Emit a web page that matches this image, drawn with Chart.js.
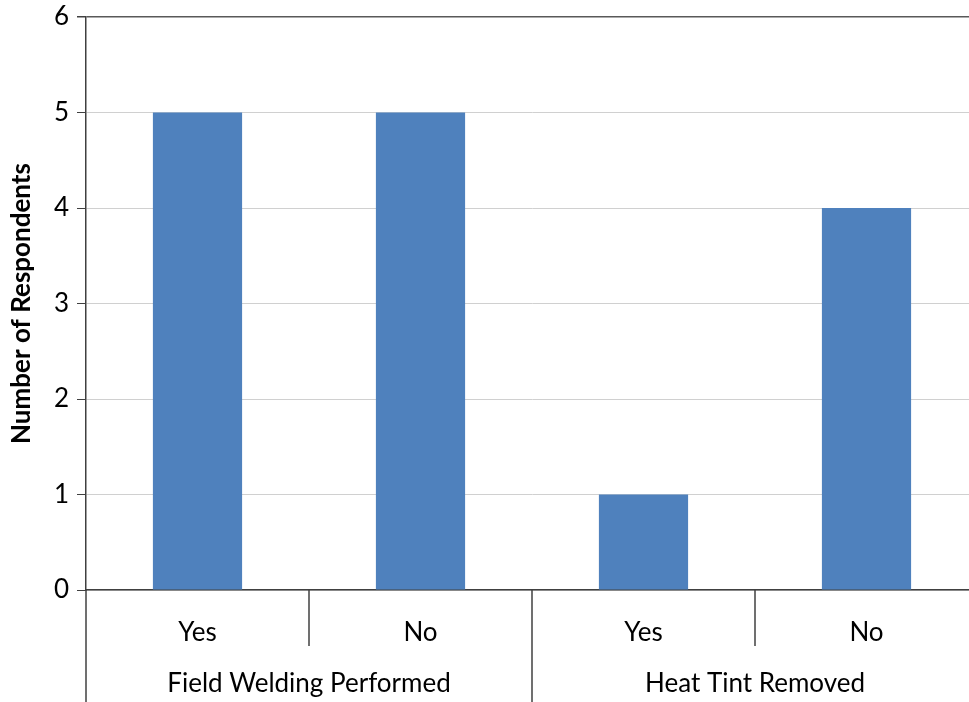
<!DOCTYPE html>
<html>
<head>
<meta charset="utf-8">
<script src="https://cdn.jsdelivr.net/npm/chart.js@4"></script>
<style>
  html, body { margin: 0; padding: 0; background: #fff; overflow: hidden; }
</style>
</head>
<body>
<canvas id="chart" width="980" height="702"></canvas>
<script>
const groups = ['Field Welding Performed', 'Heat Tint Removed']
const groupOf = [0, 0, 1, 1]
const categories = ['Yes', 'No', 'Yes', 'No']
const respondents = [5, 5, 1, 4]
const yMin = 0
const yMax = 6

const FONT = 'Lato, sans-serif'
const SIZE = 26

// second row of the category axis: group names and the dividers
const groupAxis = {
  id: 'groupAxis',
  afterDraw(chart) {
    const ctx = chart.ctx
    const x = chart.scales.x
    const bottom = chart.chartArea.bottom
    const half = (x.getPixelForValue(1) - x.getPixelForValue(0)) / 2
    ctx.save()
    ctx.strokeStyle = '#404040'
    ctx.lineWidth = 1.5
    // y axis runs down through both label rows
    ctx.beginPath()
    ctx.moveTo(x.left, bottom)
    ctx.lineTo(x.left, chart.height)
    ctx.stroke()
    for (let i = 1; i < categories.length; i++) {
      const px = x.getPixelForValue(i) - half
      const end = groupOf[i] !== groupOf[i - 1] ? chart.height : bottom + 56
      ctx.beginPath()
      ctx.moveTo(px, bottom)
      ctx.lineTo(px, end)
      ctx.stroke()
    }
    ctx.fillStyle = '#000'
    ctx.font = SIZE + 'px ' + FONT
    ctx.textAlign = 'center'
    ctx.textBaseline = 'middle'
    groups.forEach((g, gi) => {
      const idx = groupOf.map((v, i) => v === gi ? i : -1).filter(i => i >= 0)
      const a = x.getPixelForValue(idx[0]) - half
      const b = x.getPixelForValue(idx[idx.length - 1]) + half
      ctx.fillText(g, (a + b) / 2, bottom + 94)
    })
    ctx.restore()
  }
}

new Chart(document.getElementById('chart'), {
  type: 'bar',
  data: {
    labels: categories,
    datasets: [{
      data: respondents,
      backgroundColor: '#4f81bd',
      barPercentage: 0.4,
      categoryPercentage: 1
    }]
  },
  options: {
    responsive: false,
    animation: false,
    layout: { padding: { top: 17, right: 2, left: 0, bottom: 0 } },
    plugins: { legend: { display: false }, tooltip: { enabled: false } },
    scales: {
      x: {
        grid: { display: false },
        border: { display: true, color: '#404040', width: 1.5 },
        ticks: { color: '#000', font: { family: FONT, size: SIZE }, padding: 19 },
        afterFit(scale) { scale.height = 112 }
      },
      y: {
        min: yMin,
        max: yMax,
        ticks: { stepSize: 1, color: '#000', font: { family: FONT, size: SIZE }, padding: 8 },
        grid: {
          color: ctx => ctx.tick && ctx.tick.value === yMax ? '#595959' : '#d0d0d0',
          lineWidth: ctx => ctx.tick && ctx.tick.value === yMax ? 1.5 : 1,
          tickColor: '#404040',
          tickLength: 9
        },
        border: { display: true, color: '#404040', width: 1.5 },
        title: {
          display: true,
          text: 'Number of Respondents',
          color: '#000',
          font: { family: FONT, size: 26, weight: 'bold' },
          padding: { top: 6, bottom: 0 }
        },
        afterFit(scale) {
          scale.width = 86
          scale.paddingTop = 0
          scale.paddingBottom = 0
        }
      }
    }
  },
  plugins: [groupAxis]
})
</script>
</body>
</html>
